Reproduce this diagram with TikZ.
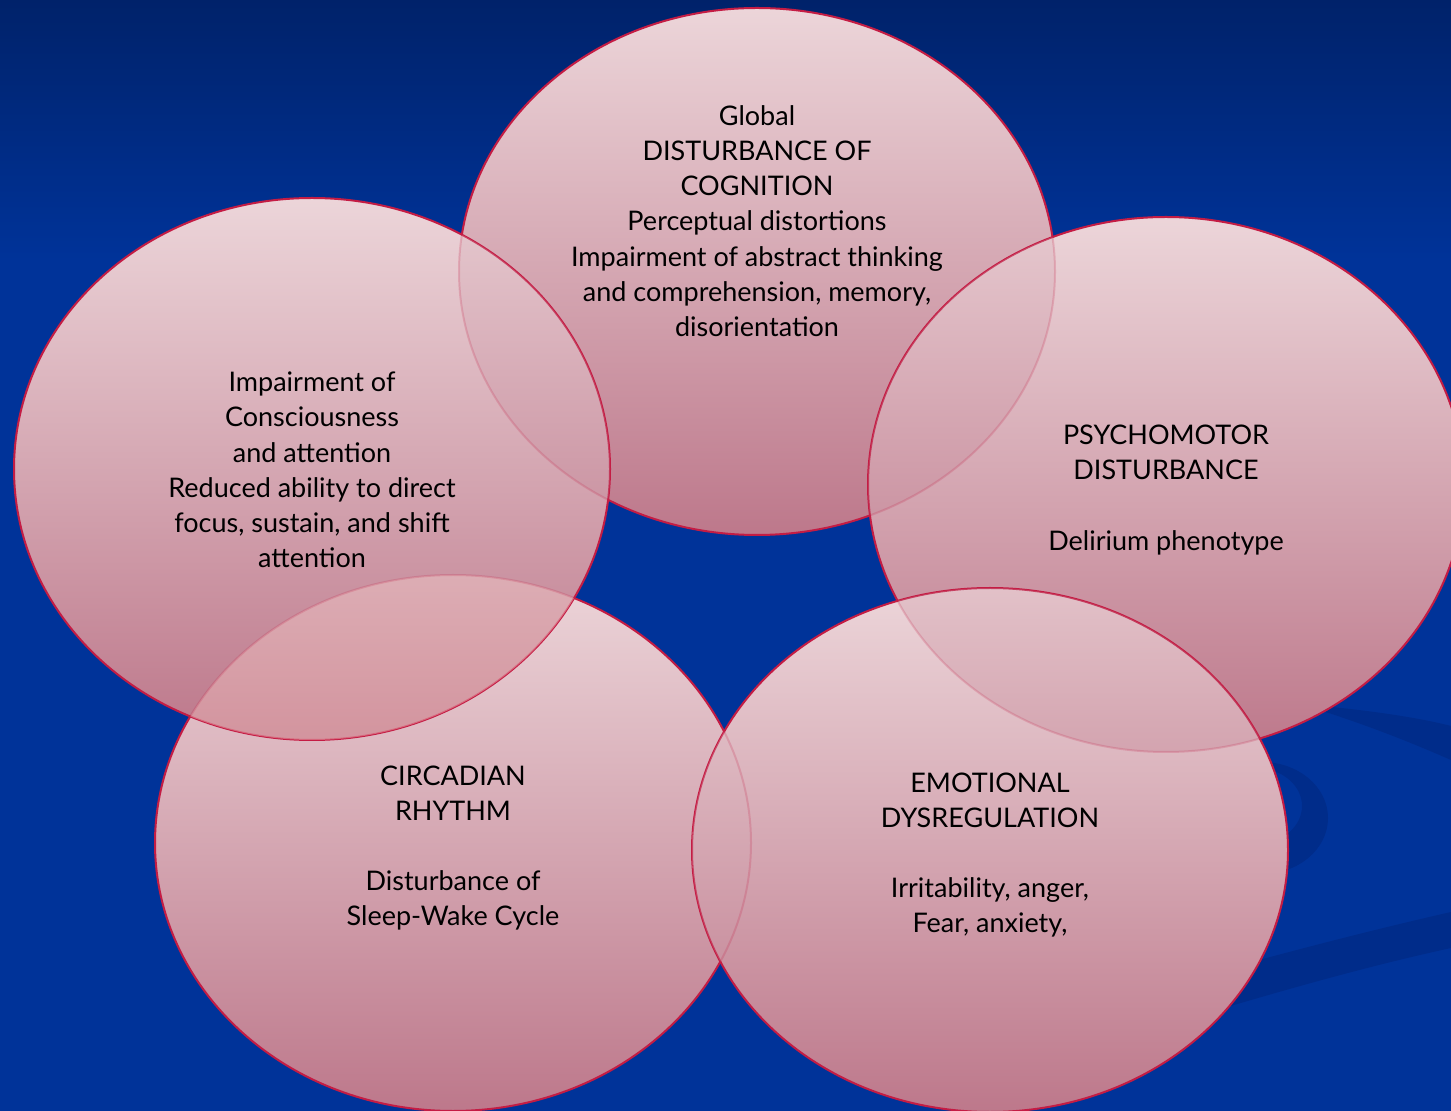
\documentclass[tikz,border=0pt]{standalone}
\usepackage{fontspec}
\setmainfont{Lato}
\definecolor{bgtop}{RGB}{0,34,106}
\definecolor{bgmid}{RGB}{0,51,153}
\definecolor{swoosh}{RGB}{0,44,138}
\definecolor{elltop}{RGB}{236,213,217}
\definecolor{ellbot}{RGB}{189,120,139}
\definecolor{lenstop}{RGB}{238,198,198}
\definecolor{lensbot}{RGB}{222,128,132}
\definecolor{edgered}{RGB}{196,28,68}
\newcommand{\ovTop}[1]{\path[#1] (757,271.5) ellipse [x radius=149pt, y radius=131.75pt];}
\newcommand{\ovRight}[1]{\path[#1] (1166,484.5) ellipse [x radius=149pt, y radius=133.75pt];}
\newcommand{\ovBR}[1]{\path[#1] (990,850) ellipse [x radius=149pt, y radius=131pt];}
\newcommand{\ovBL}[1]{\path[#1] (453,843) ellipse [x radius=149pt, y radius=134pt];}
\newcommand{\ovLeft}[1]{\path[#1] (312,469) ellipse [x radius=149pt, y radius=135.5pt];}
\tikzset{
  ellfill/.style={top color=elltop, bottom color=ellbot},
  elledge/.style={draw=edgered, line width=1pt},
  lensfill/.style={top color=elltop, bottom color=ellbot, fill opacity=0.3},
  redlens/.style={top color=lenstop, bottom color=lensbot, fill opacity=0.5},
  lensedge/.style={draw=edgered, line width=1pt, draw opacity=0.2},
  label/.style={align=center, inner sep=0pt, text=black,
    font=\fontsize{13.5}{17.6}\selectfont}
}
\begin{document}
\begin{tikzpicture}[x=0.5pt,y=-0.5pt]
\useasboundingbox (0,0) rectangle (1451,1111);
\clip (0,0) rectangle (1451,1111);
% background
\fill[bgmid] (0,0) rectangle (1451,1111);
\shade[top color=bgtop, bottom color=bgmid] (0,0) rectangle (1451,260);
% swooshes
\fill[swoosh, even odd rule]
  (1262,818) ellipse [x radius=33pt, y radius=28pt]
  (1256,806) ellipse [x radius=23pt, y radius=19pt];
\fill[swoosh] (1300,704) .. controls (1370,710) and (1420,718) .. (1451,726)
  -- (1451,760) .. controls (1410,742) and (1360,722) .. (1300,704) -- cycle;
\fill[swoosh] (1451,912) .. controls (1350,935) and (1250,962) .. (1150,990)
  -- (1150,1030) .. controls (1250,1000) and (1350,970) .. (1451,948) -- cycle;
% ellipses
\ovTop{ellfill}\ovTop{elledge}
\ovRight{ellfill}\ovRight{elledge}
\ovBL{ellfill}\ovBL{elledge}
\ovBR{ellfill}\ovBR{elledge}
\ovLeft{ellfill}\ovLeft{elledge}
% overlap lenses
\begin{scope}\ovRight{clip}\ovTop{lensfill}\ovTop{lensedge}\end{scope}
\begin{scope}\ovLeft{clip}\ovTop{lensfill}\ovTop{lensedge}\end{scope}
\begin{scope}\ovBR{clip}\ovRight{lensfill}\ovRight{lensedge}\end{scope}
\begin{scope}\ovBR{clip}\ovBL{lensfill}\ovBL{lensedge}\end{scope}
\begin{scope}\ovLeft{clip}\ovBL{redlens}\ovBL{lensedge}\end{scope}
% texts
\node[label] (tcog) at (757,221) {Global\\DISTURBANCE OF\\COGNITION\\Perceptual distortions\\Impairment of abstract thinking\\and comprehension, memory,\\disorientation};
\node[label] (tcons) at (312,470) {Impairment of\\Consciousness\\and attention\\Reduced ability to direct\\focus, sustain, and shift\\attention};
\node[label] (tpsy) at (1166,490) {PSYCHOMOTOR\\DISTURBANCE\\\mbox{}\\Delirium phenotype};
\node[label] (tcirc) at (453,848) {CIRCADIAN\\RHYTHM\\\mbox{}\\Disturbance of\\Sleep-Wake Cycle};
\node[label] (temo) at (990,855) {EMOTIONAL\\DYSREGULATION\\\mbox{}\\Irritability, anger,\\Fear, anxiety,};
\end{tikzpicture}
\end{document}
